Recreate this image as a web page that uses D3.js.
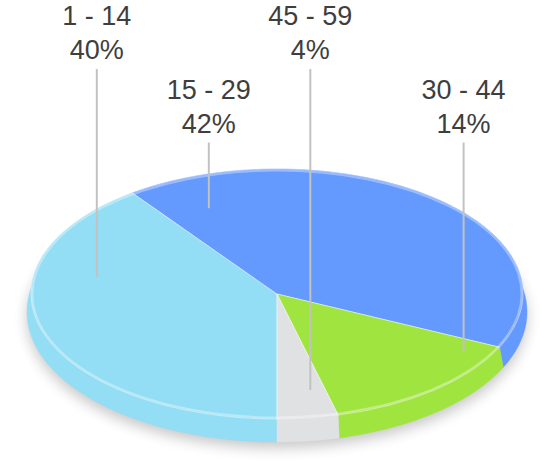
<!DOCTYPE html>
<html>
    <head>
        <title> Age groups </title>
        <script type="text/javascript" src="https://d3js.org/d3.v7.min.js"></script>
        <style>
            body { margin: 0; background: #ffffff; }
        </style>
    </head>

    <body>
        <div id="my_chart">
        </div>
    </body>

    <script type="text/javascript">
        // Data
        var categories = ['1 - 14', '15 - 29', '30 - 44', '45 - 59'];
        var percents = [40, 42, 14, 4];
        var colors = ['#93DDF5', '#6499FD', '#A0E43F', '#E0E1E3'];

        // Where each label's pole touches the pie (angle in degrees, share of the radius)
        // and which text row the label sits on
        var label_angle = [280.5, 338, 121, 170];
        var label_radius = [0.745, 0.74, 0.885, 0.78];
        var label_row = [0, 1, 1, 0];

        var svg_size = {width: 550, height: 475};

        // Pie geometry: top face is an ellipse, the side is a slightly flared band under it
        var pie_center = {x: 277, y: 294};
        var top_r = {x: 246, y: 125};
        var bottom_r = {x: 250, y: 130};
        var depth = 18;

        // Label rows: baseline of the first text line
        var row_baseline = [25, 98.5];
        var line_gap = 34;

        var dataset = categories.map(function(c, i){
            return {category: c, value: percents[i], color: colors[i],
                    label_angle: label_angle[i], label_radius: label_radius[i], row: label_row[i]};
        });

        generateVisualization(dataset);

        // point on an ellipse for a pie angle (clockwise from 12 o'clock)
        function ellipsePoint(angle, r, cy, f){
            return [pie_center.x + r.x * f * Math.sin(angle),
                    cy - r.y * f * Math.cos(angle)];
        }

        // where the label pole of a slice ends
        function anchorPoint(d){
            return ellipsePoint(d.data.label_angle * Math.PI / 180, top_r, pie_center.y, d.data.label_radius);
        }

        function generateVisualization(dataset){
            var svg = d3.select('#my_chart')
                        .append('svg')
                        .attr('width', svg_size.width)
                        .attr('height', svg_size.height);

            // soft shadow under the pie
            var defs = svg.append('defs');
            defs.append('filter')
                .attr('id', 'shadow')
                .attr('x', '-20%').attr('y', '-20%')
                .attr('width', '140%').attr('height', '140%')
                .append('feGaussianBlur')
                .attr('stdDeviation', 7);

            svg.append('ellipse')
                .attr('cx', pie_center.x)
                .attr('cy', pie_center.y + depth + 6)
                .attr('rx', bottom_r.x)
                .attr('ry', bottom_r.y)
                .attr('fill', '#000')
                .attr('opacity', 0.22)
                .attr('filter', 'url(#shadow)');

            // slices start at 6 o'clock and run clockwise
            var pie = d3.pie()
                        .sort(null)
                        .value(d => d.value)
                        .startAngle(Math.PI)
                        .endAngle(3 * Math.PI);
            var arcs = pie(dataset);

            // side walls, drawn back to front
            var line = d3.line();
            var sides = arcs.slice().sort(function(a, b){
                return -Math.cos((a.startAngle + a.endAngle) / 2) + Math.cos((b.startAngle + b.endAngle) / 2);
            });
            svg.append('g')
                .selectAll('path')
                .data(sides)
                .enter()
                .append('path')
                .attr('d', function(d){
                    var steps = d3.range(0, 61).map(k => d.startAngle + (d.endAngle - d.startAngle) * k / 60);
                    var top = steps.map(a => ellipsePoint(a, top_r, pie_center.y, 1));
                    var bottom = steps.slice().reverse().map(a => ellipsePoint(a, bottom_r, pie_center.y + depth, 1));
                    return line(top.concat(bottom)) + 'Z';
                })
                .attr('fill', d => d.data.color)
                .attr('stroke', d => d.data.color)
                .attr('stroke-width', 0.5);

            // top face: circular arcs squeezed into the ellipse
            var arc = d3.arc()
                        .innerRadius(0)
                        .outerRadius(top_r.x);
            var top_g = svg.append('g')
                           .attr('transform', 'translate(' + pie_center.x + ',' + pie_center.y + ') scale(1,' + (top_r.y / top_r.x) + ')');
            top_g.selectAll('path')
                .data(arcs)
                .enter()
                .append('path')
                .attr('d', arc)
                .attr('fill', d => d.data.color)
                .attr('stroke', 'rgba(255,255,255,0.45)')
                .attr('stroke-width', 1)
                .attr('vector-effect', 'non-scaling-stroke');

            // light rim along the edge of the top face
            svg.append('ellipse')
                .attr('cx', pie_center.x)
                .attr('cy', pie_center.y)
                .attr('rx', top_r.x - 1.5)
                .attr('ry', top_r.y - 1.5)
                .attr('fill', 'none')
                .attr('stroke', 'rgba(255,255,255,0.35)')
                .attr('stroke-width', 2);

            // label poles and texts
            var labels = svg.append('g')
                            .selectAll('g')
                            .data(arcs)
                            .enter()
                            .append('g');

            labels.append('line')
                .attr('x1', d => anchorPoint(d)[0])
                .attr('x2', d => anchorPoint(d)[0])
                .attr('y1', d => row_baseline[d.data.row] + line_gap + 10)
                .attr('y2', d => anchorPoint(d)[1])
                .attr('stroke', '#c2c2c2')
                .attr('stroke-width', 2);

            var texts = labels.append('text')
                .attr('text-anchor', 'middle')
                .attr('font-family', 'Liberation Sans, Arial, sans-serif')
                .attr('font-size', '27px')
                .attr('fill', '#3e3e3e');

            texts.append('tspan')
                .attr('x', d => anchorPoint(d)[0])
                .attr('y', d => row_baseline[d.data.row])
                .text(d => d.data.category);

            texts.append('tspan')
                .attr('x', d => anchorPoint(d)[0])
                .attr('y', d => row_baseline[d.data.row] + line_gap)
                .text(d => d.data.value + '%');
        };
    </script>
</html>
